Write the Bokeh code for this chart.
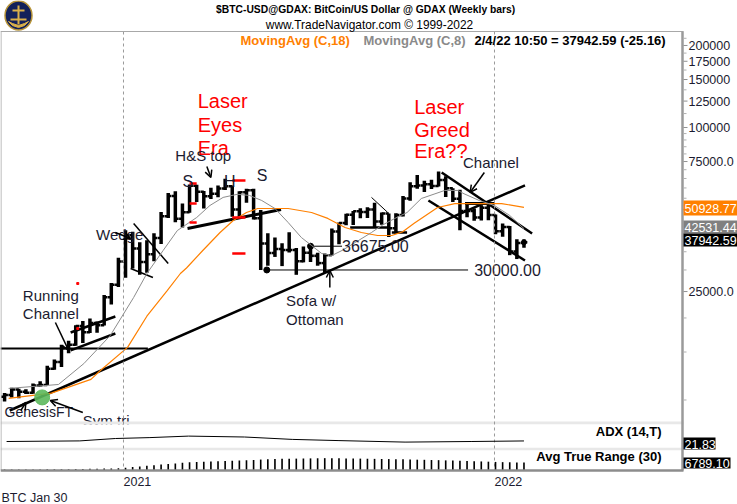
import pandas as pd
from bokeh.plotting import figure
from bokeh.models import Range1d, LinearScale, Label, Arrow, OpenHead
from bokeh.core.properties import value
from bokeh.embed import file_html
from bokeh.resources import INLINE

FONT = "Liberation Sans"
INK = "#1b1b30"
ORANGE = "#ff8000"
GRAY_MA = "#8c8c8c"

# ---------------- weekly OHLC (bars dated by week start, Sunday) ----------------
bar_dates = pd.date_range("2020-09-06", periods=74, freq="7D")
opens = [10280, 10440, 10930, 10730, 10620, 11300, 11360, 13030, 13800, 15480, 15960, 18680, 17730, 19150, 18800, 23840, 26470,
         32200, 40250, 36000, 32100, 34300, 39300, 47200, 56000, 46300, 48900, 61100, 58100, 55900, 57100, 59700, 60900, 50000,
         57800, 58900, 46400, 37500, 34600, 35800, 35500, 35500, 32300, 34700, 33800, 31800, 34000, 41500, 44600, 47800, 49300,
         49000, 50000, 45200, 48300, 42700, 47700, 54900, 60900, 61300, 61900, 61000, 64200, 59800, 54800, 49400, 49400, 46700,
         50800, 47700, 41600, 43100, 35100, 37700]
highs = [10600, 11100, 11000, 10950, 11490, 11720, 13350, 14080, 15960, 16480, 18800, 19480, 19920, 19420, 24300, 26870, 33300,
         41950, 41400, 37900, 38600, 40950, 49000, 57500, 58350, 52600, 61800, 61700, 58500, 60100, 61300, 64900, 61300, 58400,
         59600, 59600, 49800, 40900, 39500, 37600, 41300, 36100, 36600, 35900, 34700, 34500, 42600, 44800, 48200, 49400, 50500,
         51000, 52900, 48800, 48400, 48500, 56000, 62900, 67000, 63700, 64300, 69000, 66300, 59900, 59100, 51900, 50400, 51800,
         52100, 47900, 44400, 43500, 38900, 38800]
lows = [9880, 10220, 10140, 10520, 10540, 11200, 11340, 12920, 13210, 14850, 15800, 16200, 17600, 17640, 18750, 22400, 26000,
        28100, 30400, 28800, 29300, 32300, 37350, 46500, 44900, 43000, 48700, 53300, 50400, 54700, 55500, 59000, 47000, 47000,
        53000, 46000, 30000, 31100, 33500, 31000, 34800, 28800, 32000, 32100, 31100, 29300, 33900, 37300, 43800, 43900, 46400,
        46500, 42800, 44000, 39600, 40800, 47100, 53900, 59600, 58000, 59500, 60800, 55600, 53300, 42000, 46800, 45500, 45600,
        45700, 40600, 39700, 34000, 32900, 36200]
closes = [10440, 10930, 10730, 10620, 11300, 11360, 13030, 13800, 15480, 15960, 18680, 17730, 19150, 18800, 23840, 26470, 32200,
          40250, 36000, 32100, 34300, 39300, 47200, 56000, 46300, 48900, 61100, 58100, 55900, 57100, 59700, 60900, 50000, 57800,
          58900, 46400, 37500, 34600, 35800, 35500, 35500, 32300, 34700, 33800, 31800, 34000, 41500, 44600, 47800, 49300, 49000,
          50000, 45200, 48300, 42700, 47700, 54900, 60900, 61300, 61900, 61000, 64200, 59800, 54800, 49400, 49400, 46700, 50800,
          47700, 41600, 43100, 35100, 37700, 37942.59]

# ---------------- moving averages ----------------
ma8_dates = ["2020-09-10", "2020-10-29", "2020-11-23", "2020-12-19", "2021-01-11", "2021-01-24", "2021-02-09", "2021-02-23",
             "2021-03-14", "2021-03-27", "2021-04-09", "2021-04-23", "2021-05-05", "2021-05-17", "2021-05-30", "2021-06-12",
             "2021-06-25", "2021-07-05", "2021-07-15", "2021-07-25", "2021-08-04", "2021-08-17", "2021-09-02", "2021-09-12",
             "2021-09-25", "2021-10-07", "2021-10-21", "2021-11-13", "2021-11-26", "2021-12-02", "2021-12-17", "2022-01-01",
             "2022-01-16", "2022-01-30"]
ma8_vals = [11030, 11400, 13600, 17240, 23780, 29120, 35370, 41880, 46740, 51730, 55390, 56870, 56310, 53970, 50440, 44800,
            39470, 36900, 34480, 33910, 35370, 37840, 41180, 43690, 46380, 48760, 54870, 58740, 58740, 57130, 53970, 51730,
            47540, 42531.44]
ma18_dates = ["2020-09-10", "2020-10-22", "2020-11-30", "2020-12-09", "2021-01-05", "2021-01-24", "2021-02-13", "2021-02-26",
              "2021-03-04", "2021-03-20", "2021-04-06", "2021-04-19", "2021-05-02", "2021-05-13", "2021-06-12", "2021-07-05",
              "2021-07-21", "2021-08-07", "2021-08-23", "2021-09-08", "2021-09-22", "2021-10-03", "2021-10-14", "2021-11-06",
              "2021-11-23", "2021-12-22", "2022-01-08", "2022-01-30"]
ma18_vals = [10130, 10600, 11900, 12800, 15600, 20300, 25220, 29120, 30510, 35370, 41180, 45570, 48760, 50440, 50440, 48760,
             46380, 42950, 41180, 40150, 40150, 41500, 44500, 50850, 52580, 52580, 52580, 50928.77]

# ---------------- indicator panels ----------------
adx_dates = ["2020-09-08", "2020-11-19", "2020-12-24", "2021-01-27", "2021-03-06", "2021-04-30", "2021-06-16", "2021-08-01",
             "2021-10-05", "2021-12-09", "2022-01-30"]
adx_vals = [20, 22, 30, 33, 38, 35, 27, 23, 18, 20, 21.83]
atr_vals = [900, 900, 900, 900, 950, 950, 1000, 1050, 1100, 1150, 1250, 1300, 1400, 1450, 1600, 1750, 2000,
            2300, 2900, 3500, 4000, 4500, 5000, 5500, 6000, 6500, 7000, 7200, 7400, 7600, 7800, 8000, 8300, 8500,
            8700, 8900, 9300, 9500, 9700, 9900, 10000, 10100, 10200, 10300, 10400, 10500, 10500, 10400, 10300, 10200,
            10100, 10000, 9900, 9800, 9700, 9600, 9500, 9400, 9200, 9100, 8900, 8800, 8600, 8400, 8300, 8100, 7900,
            7700, 7500, 7300, 7100, 7000, 6900, 6789.10]

# ---------------- drawn annotations (date, price) ----------------
uptrend_x = ["2020-09-11", "2022-01-31"]; uptrend_y = [9150, 61300]
base_x = ["2020-09-02", "2021-01-25"]; base_y = [15450, 15450]
run_up_x = ["2020-11-10", "2020-12-24"]; run_up_y = [17690, 20250]
run_lo_x = ["2020-11-10", "2020-12-24"]; run_lo_y = [15200, 17540]
wedge_up_x = ["2021-01-11", "2021-02-14"]; wedge_up_y = [44420, 31690]
wedge_lo_x = ["2021-01-08", "2021-01-30"]; wedge_lo_y = [30380, 28150]
neck_x = ["2021-03-05", "2021-06-05"]; neck_y = [42600, 50030]
chan_up_x = ["2021-11-10", "2022-02-07"]; chan_up_y = [68380, 40830]
chan_lo_x = ["2021-10-28", "2022-01-31"]; chan_lo_y = [53970, 32500]
flag_x = ["2021-12-03", "2022-01-01"]; flag_y = [52620, 52620]
sep_thin_x = ["2021-09-02", "2021-09-18"]; sep_thin_y = [55390, 48760]
box1_x = ["2021-08-12", "2021-09-20"]; box1_y = [42950, 42950]
box2_x = ["2021-09-22", "2021-10-07"]; box2_y = [41180, 41180]
lvl_36675_x = ["2021-07-04", "2021-08-04"]; lvl_36675 = 36675.00
lvl_30000_x = ["2021-05-22", "2021-12-06"]; lvl_30000 = 30000.00
red_x0 = ["2021-03-07", "2021-03-07", "2021-03-07", "2021-04-18", "2021-04-18", "2021-04-18"]
red_x1 = ["2021-03-14", "2021-03-14", "2021-03-14", "2021-05-01", "2021-05-01", "2021-05-01"]
red_y = [62300, 52620, 44800, 63880, 46740, 34480]
red_dot_x = ["2020-11-17", "2020-11-17"]; red_dot_y = [26760, 18300]
genesis_x = "2020-10-13"; genesis_y = 10220

notes = [  # text, date, price, size, color
    ("Laser", "2021-03-15", 125600, "20px", "#ff0000"),
    ("Eyes", "2021-03-15", 102140, "20px", "#ff0000"),
    ("Era", "2021-03-15", 83740, "20px", "#ff0000"),
    ("Laser", "2021-10-14", 119400, "20px", "#ff0000"),
    ("Greed", "2021-10-14", 98320, "20px", "#ff0000"),
    ("Era??", "2021-10-14", 81650, "20px", "#ff0000"),
    ("H&S top", "2021-02-21", 78930, "15px", INK),
    ("S", "2021-02-28", 63360, "16px", INK),
    ("H", "2021-04-10", 63360, "16px", INK),
    ("S", "2021-05-12", 66660, "16px", INK),
    ("Wedge", "2020-12-05", 40490, "15px", INK),
    ("Running", "2020-09-24", 24180, "15px", INK),
    ("Channel", "2020-09-24", 20770, "15px", INK),
    ("Channel", "2021-12-01", 74360, "15px", INK),
    ("Sofa w/", "2021-06-10", 23180, "15px", INK),
    ("Ottoman", "2021-06-10", 19740, "15px", INK),
    ("36675.00", "2021-08-04", 36675, "16px", INK),
    ("30000.00", "2021-12-12", 30000, "16px", INK),
    ("GenesisFT", "2020-09-06", 9000, "14px", INK),
    ("Sym tri", "2020-11-22", 8410, "15px", INK),
]
arrows = [  # start date, start price, end date, end price
    ("2020-12-24", 41180, "2021-01-08", 39130),
    ("2021-03-24", 71960, "2021-03-28", 65560),
    ("2021-12-22", 68380, "2021-12-08", 57760),
    ("2020-10-26", 19250, "2020-11-08", 15200),
    ("2021-07-23", 25850, "2021-07-23", 29870),
    ("2020-11-22", 9000, "2020-10-21", 9960),
    ("2020-09-22", 9150, "2020-09-27", 9800),
]

# price scale (right side)
tick_vals = [25000, 50000, 75000, 100000, 125000, 150000, 175000, 200000]
tick_labels = ["25000.0", "50000.0", "75000.0", "100000", "125000", "150000", "175000", "200000"]
minor_vals = [10000, 15000, 20000, 30000, 35000, 40000, 45000, 55000, 60000, 65000, 70000, 80000, 85000, 90000, 95000,
              112500, 137500, 162500, 187500, 212500]

# last-value tags: text, fill colour, (top, bottom) in screen pixels, right edge
tag_text = ["50928.77", "42531.44", "37942.59", "21.83", "6789.10"]
tag_fill = [ORANGE, "#808080", "black", "black", "black"]
tag_top = [200, 220, 233, 437, 457]
tag_bottom = [215, 233, 246, 449, 468]
tag_right = [737, 737, 737, 715, 730]

D = pd.to_datetime
ms = lambda s: pd.Timestamp(s).value / 1e6

X0 = pd.Timestamp("2021-01-01") - pd.Timedelta(days=121.0)
X1 = pd.Timestamp("2022-01-01") + pd.Timedelta(days=239.07)

p = figure(width=737, height=504, x_axis_type="datetime", y_axis_type="log",
           x_range=Range1d(X0, X1), y_range=Range1d(4135, 292460),
           output_backend="svg", toolbar_location=None,
           x_axis_location=None, y_axis_location=None,
           min_border_left=0, min_border_right=0, min_border_top=0, min_border_bottom=0)
p.grid.visible = False
p.outline_line_color = None
p.background_fill_color = "white"
p.border_fill_color = "white"

p.extra_x_ranges = {"px": Range1d(0, 737)}
p.extra_x_scales = {"px": LinearScale()}
p.extra_y_ranges = {"pix": Range1d(504, 0), "adx": Range1d(-190, 1490), "atr": Range1d(-28900, 399500)}
p.extra_y_scales = {"pix": LinearScale(), "adx": LinearScale(), "atr": LinearScale()}

PX = dict(x_range_name="px", y_range_name="pix")

# logo
p.ellipse(x=[18], y=[15], width=[27], height=[29], fill_color="#13215a", line_color="#b8953a", line_width=1.5, **PX)
p.segment(x0=[18, 12, 10], y0=[5, 10, 19], x1=[18, 24, 26], y1=[24, 10, 19], line_color="#d9b04a", line_width=2, **PX)
p.patch(x=[8, 12, 18, 24, 28, 24, 18, 12], y=[21, 25, 27, 25, 21, 23, 25, 23], fill_color="#d9b04a", line_color="#d9b04a", **PX)

# bars
tick = pd.Timedelta(days=3.3)
p.segment(x0=bar_dates, x1=bar_dates, y0=lows, y1=highs, line_width=3.5, line_color="black")
p.segment(x0=bar_dates - tick, x1=bar_dates, y0=opens, y1=opens, line_width=2.5, line_color="black")
p.segment(x0=bar_dates, x1=bar_dates + tick, y0=closes, y1=closes, line_width=2.5, line_color="black")

# trend lines
for xs, ys, w in [(uptrend_x, uptrend_y, 2.5), (base_x, base_y, 2), (neck_x, neck_y, 3), (chan_up_x, chan_up_y, 2.5),
                  (chan_lo_x, chan_lo_y, 2.5), (flag_x, flag_y, 3), (box1_x, box1_y, 2.5), (box2_x, box2_y, 2.5),
                  (run_up_x, run_up_y, 2.5), (run_lo_x, run_lo_y, 2.5),
                  (wedge_up_x, wedge_up_y, 1.5), (wedge_lo_x, wedge_lo_y, 1.5), (sep_thin_x, sep_thin_y, 1)]:
    p.line(x=D(xs), y=ys, line_width=w, line_color="black")
p.line(x=D(lvl_36675_x), y=[lvl_36675] * 2, line_width=1, line_color="black")
p.line(x=D(lvl_30000_x), y=[lvl_30000] * 2, line_width=1, line_color="black")
p.scatter(x=D([lvl_36675_x[0], lvl_30000_x[0]]), y=[lvl_36675, lvl_30000], size=6, color="black")
p.scatter(x=[bar_dates[-1]], y=[closes[-1]], size=5, color="black")

# moving averages
p.line(x=D(ma18_dates), y=ma18_vals, line_color=ORANGE, line_width=1.2)
p.line(x=D(ma8_dates), y=ma8_vals, line_color=GRAY_MA, line_width=1)

# red marks
p.segment(x0=D(red_x0), x1=D(red_x1), y0=red_y, y1=red_y, line_color="#ff0000", line_width=2.5)
p.scatter(x=D(red_dot_x), y=red_dot_y, size=2, marker="square", color="#ff0000")
p.scatter(x=[D(genesis_x)], y=[genesis_y], size=15, color="#5cb85c", alpha=0.9)

# annotation texts
for txt, d, pr, sz, col in notes:
    p.text(x=[D(d)], y=[pr], text=[txt], text_font=value(FONT), text_font_size=value(sz), text_color=col,
           text_baseline="middle", text_align="left")
for x0, y0, x1, y1 in arrows:
    p.add_layout(Arrow(end=OpenHead(size=7, line_width=1.5, line_color="black"), x_start=ms(x0), y_start=y0,
                       x_end=ms(x1), y_end=y1, line_width=1.5, line_color="black"))

# panels
p.quad(left=[0, 0], right=[683, 683], top=[421, 447], bottom=[424, 450], fill_color="#e8e8e8", line_color=None, **PX)
p.quad(left=[0, 0], right=[683, 683], top=[424, 450], bottom=[447, 470], fill_color="white", line_color=None, **PX)
p.quad(left=[0], right=[737], top=[470], bottom=[504], fill_color="white", line_color=None, **PX)

# year separators
years = D(["2021-01-01", "2022-01-01"])
p.segment(x0=years, x1=years, y0=[31, 31], y1=[470, 470], y_range_name="pix", line_color="#9a9a9a", line_width=1,
          line_dash="3 3")

# ADX and ATR
p.line(x=D(adx_dates), y=adx_vals, y_range_name="adx", line_color="black", line_width=1)
p.vbar(x=bar_dates, top=atr_vals, bottom=0, width=1.6 * 86400000, y_range_name="atr", fill_color="black",
       line_color=None)

# borders
p.segment(x0=[0, 0.5, 682, 0], y0=[31, 31, 31, 470], x1=[683, 0.5, 682, 683], y1=[31, 470, 470, 470],
          line_color=["#a8a8a8", "#a8a8a8", "#9a9a9a", "#8c8c8c"], line_width=[1, 1, 2.5, 2.5], **PX)

# price scale: ticks and labels at the price values
p.segment(x0=[683] * len(minor_vals), x1=[686] * len(minor_vals), y0=minor_vals, y1=minor_vals,
          x_range_name="px", line_color="#b0b0b0", line_width=1)
p.segment(x0=[683] * len(tick_vals), x1=[687] * len(tick_vals), y0=tick_vals, y1=tick_vals,
          x_range_name="px", line_color="#909090", line_width=1)
p.text(x=[688] * len(tick_vals), y=tick_vals, text=tick_labels, x_range_name="px", text_font=value(FONT),
       text_font_size=value("12.5px"), text_color=INK, text_baseline="middle", text_align="left")

# last-value tags
p.quad(left=[683] * len(tag_text), right=tag_right, top=tag_top, bottom=tag_bottom, fill_color=tag_fill,
       line_color=None, **PX)
p.text(x=[684] * len(tag_text), y=[(a + b) / 2 + 0.5 for a, b in zip(tag_top, tag_bottom)], text=tag_text,
       text_font=value(FONT), text_font_size=value("12.5px"), text_color="white", text_baseline="middle",
       text_align="left", **PX)

# header and side labels
def lab(text, x, y, size, color, bold=False, align="left", xr="px"):
    p.add_layout(Label(x=x, y=y, text=text, x_range_name=xr, y_range_name="pix", text_font=FONT,
                       text_font_size=size, text_color=color, text_font_style="bold" if bold else "normal",
                       text_align=align, text_baseline="middle"))

lab("$BTC-USD@GDAX:  BitCoin/US Dollar @ GDAX  (Weekly bars)", 368, 9, "10.3px", "black", bold=True, align="center")
lab("www.TradeNavigator.com \u00a9 1999-2022", 369, 24, "11.9px", "black", align="center")
lab("MovingAvg (C,18)", 240, 40, "13px", ORANGE, bold=True)
lab("MovingAvg (C,8)", 363, 40, "13px", "#8a8a8a", bold=True)
lab("2/4/22 10:50 = 37942.59 (-25.16)", 474, 40, "13px", "black", bold=True)
lab("ADX (14,T)", 661, 431, "13px", "black", bold=True, align="right")
lab("Avg True Range (30)", 661, 456, "13px", "black", bold=True, align="right")
lab("BTC Jan 30", 1, 497, "12.5px", INK)
for yr, s in zip(years, ["2021", "2022"]):
    lab(s, ms(yr), 481, "12.5px", INK, xr="default")

open("out.html", "w").write(file_html(p, INLINE))
